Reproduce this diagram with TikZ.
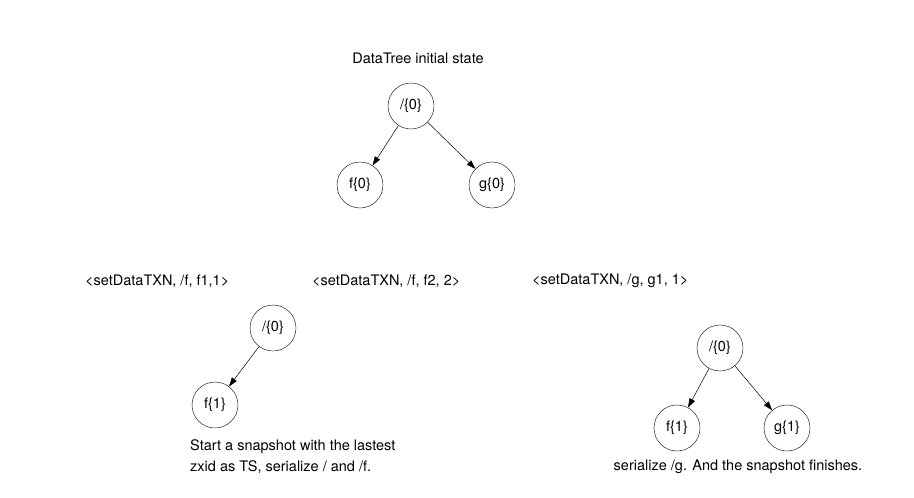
\documentclass[tikz,border=0pt]{standalone}
\usepackage{fontspec}
\setmainfont{TeX Gyre Heros}
\usetikzlibrary{positioning, arrows.meta}

\begin{document}
\begin{tikzpicture}[
        x=1pt, y=-1pt,
        vx/.style={circle,draw,minimum size=46pt,inner sep=0pt,font=\fontsize{14.5}{17}\selectfont},
        lbl/.style={font=\fontsize{14.5}{17}\selectfont,inner sep=0pt},
        edge/.style={-{Triangle[length=9pt,width=6pt]},line width=0.5pt}
      ]
      \useasboundingbox (0,0) rectangle (914,498);
      % initial tree
      \node[lbl] (title) at (418,58) {DataTree initial state};
      \node[vx] (r0) at (411,106) {/\{0\}};
      \node[vx] (f0) at (360,185) {f\{0\}};
      \node[vx] (g0) at (492,185) {g\{0\}};
      \draw[edge] (r0) -- (f0);
      \draw[edge] (r0) -- (g0);
      % transactions
      \node[lbl,anchor=west] (tx1) at (85,281) {<setDataTXN, /f, f1,1>};
      \node[lbl,anchor=west] (tx2) at (312,281) {<setDataTXN, /f, f2, 2>};
      \node[lbl,anchor=west] (tx3) at (532,281) {<setDataTXN, /g, g1, 1>};
      % snapshot start
      \node[vx] (r1) at (273,328) {/\{0\}};
      \node[vx] (f1) at (215,405) {f\{1\}};
      \draw[edge] (r1) -- (f1);
      \node[lbl,anchor=west] (c1a) at (190,447) {Start a snapshot with the lastest};
      \node[lbl,anchor=west] (c1b) at (190,467) {zxid as TS, serialize / and /f.};
      % snapshot end
      \node[vx] (r2) at (720,348) {/\{0\}};
      \node[vx] (f2) at (677,428) {f\{1\}};
      \node[vx] (g2) at (787,428) {g\{1\}};
      \draw[edge] (r2) -- (f2);
      \draw[edge] (r2) -- (g2);
      \node[lbl] (c2) at (738,467) {serialize /g. And the snapshot finishes.};
    \end{tikzpicture}
\end{document}
